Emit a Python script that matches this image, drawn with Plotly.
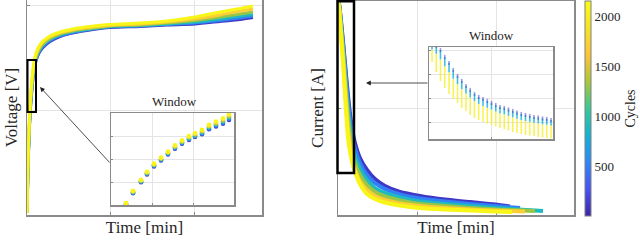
import plotly.graph_objects as go

# ---------------- data (axis units are arbitrary grid units) -------------
cycles = [100, 500, 900, 1300, 1700, 2100]

# Voltage vs time (left panel)
time_v = [0, 0.006, 0.012, 0.024, 0.036, 0.060, 0.083, 0.107, 0.143, 0.190, 0.274, 0.393,
          0.571, 0.750, 0.988, 1.345, 1.667, 2.0, 2.298, 2.536, 2.690]
v_c100 = [0.019, 0.220, 0.450, 0.737, 0.957, 1.215, 1.378, 1.474, 1.550, 1.603, 1.660, 1.708,
          1.746, 1.770, 1.794, 1.804, 1.818, 1.828, 1.852, 1.871, 1.890]
v_c500 = [0.019, 0.230, 0.459, 0.746, 0.967, 1.225, 1.388, 1.483, 1.560, 1.612, 1.670, 1.713,
          1.751, 1.775, 1.799, 1.809, 1.823, 1.837, 1.861, 1.885, 1.904]
v_c900 = [0.019, 0.239, 0.469, 0.766, 0.986, 1.244, 1.407, 1.498, 1.569, 1.627, 1.679, 1.723,
          1.761, 1.780, 1.804, 1.813, 1.828, 1.847, 1.876, 1.904, 1.919]
v_c1300 = [0.019, 0.249, 0.488, 0.785, 1.005, 1.263, 1.426, 1.512, 1.584, 1.636, 1.689, 1.732,
           1.766, 1.785, 1.809, 1.818, 1.837, 1.861, 1.895, 1.924, 1.943]
v_c1700 = [0.019, 0.268, 0.507, 0.804, 1.024, 1.282, 1.445, 1.531, 1.598, 1.651, 1.703, 1.742,
           1.775, 1.794, 1.813, 1.828, 1.847, 1.876, 1.914, 1.952, 1.971]
v_c2100 = [0.019, 0.287, 0.526, 0.833, 1.053, 1.311, 1.464, 1.550, 1.617, 1.665, 1.713, 1.751,
           1.785, 1.804, 1.823, 1.837, 1.857, 1.895, 1.943, 1.976, 2.000]

# Voltage window (inset)
vin_t = [0.366, 0.537, 0.732, 0.878, 1.049, 1.220, 1.390, 1.561, 1.732, 1.902, 2.049, 2.220,
         2.390, 2.561, 2.732, 2.878]
vin_c100 = [0.003, 0.515, 0.993, 1.331, 1.679, 1.930, 2.191, 2.442, 2.659, 2.823, 2.953, 3.074,
            3.291, 3.412, 3.532, 3.696]
vin_c500 = [0.019, 0.535, 1.013, 1.355, 1.703, 1.958, 2.219, 2.474, 2.691, 2.859, 2.989, 3.114,
            3.331, 3.456, 3.580, 3.748]
vin_c900 = [0.035, 0.555, 1.033, 1.379, 1.727, 1.986, 2.247, 2.506, 2.723, 2.895, 3.025, 3.154,
            3.371, 3.500, 3.628, 3.800]
vin_c1300 = [0.051, 0.575, 1.053, 1.403, 1.751, 2.014, 2.275, 2.538, 2.755, 2.931, 3.061, 3.194,
             3.411, 3.544, 3.676, 3.852]
vin_c1700 = [0.067, 0.595, 1.073, 1.427, 1.775, 2.042, 2.303, 2.570, 2.787, 2.967, 3.097, 3.234,
             3.451, 3.588, 3.724, 3.904]
vin_c2100 = [0.083, 0.615, 1.093, 1.451, 1.799, 2.070, 2.331, 2.602, 2.819, 3.003, 3.133, 3.274,
             3.491, 3.632, 3.772, 3.956]

# Current vs time (right panel)
time_i = [0, 0.013, 0.038, 0.063, 0.089, 0.127, 0.165, 0.215, 0.278, 0.367, 0.468, 0.595,
          0.785, 1.038, 1.354, 1.671, 1.987]
end_t = [2.177, 2.304, 2.595, 2.494, 2.367, 2.203]
end_i = [0.079, 0.065, 0.037, 0.037, 0.033, 0.028]
i_c100 = [1.991, 1.972, 1.813, 1.626, 1.411, 1.112, 0.869, 0.673, 0.533, 0.421, 0.336, 0.271,
          0.215, 0.178, 0.145, 0.121, 0.098]
i_c500 = [1.991, 1.972, 1.794, 1.598, 1.374, 1.056, 0.813, 0.617, 0.486, 0.374, 0.299, 0.243,
          0.192, 0.154, 0.126, 0.103, 0.084]
i_c900 = [1.991, 1.963, 1.766, 1.561, 1.318, 0.981, 0.738, 0.551, 0.430, 0.327, 0.252, 0.206,
          0.164, 0.126, 0.103, 0.084, 0.065]
i_c1300 = [1.991, 1.953, 1.738, 1.523, 1.262, 0.907, 0.664, 0.486, 0.374, 0.280, 0.215, 0.173,
           0.136, 0.103, 0.084, 0.065, 0.051]
i_c1700 = [1.991, 1.944, 1.710, 1.477, 1.196, 0.813, 0.589, 0.421, 0.318, 0.234, 0.178, 0.140,
           0.107, 0.084, 0.065, 0.051, 0.042]
i_c2100 = [1.991, 1.935, 1.682, 1.430, 1.121, 0.720, 0.542, 0.402, 0.290, 0.196, 0.150, 0.117,
           0.089, 0.065, 0.051, 0.042, 0.033]

# Current window (inset)
cin_t = [0.048, 0.117, 0.185, 0.254, 0.323, 0.391, 0.460, 0.528, 0.597, 0.665, 0.734, 0.802,
         0.871, 0.940, 1.008, 1.077, 1.145, 1.214, 1.282, 1.351, 1.419, 1.488, 1.556, 1.625,
         1.694, 1.762, 1.831, 1.899, 1.968]
cin_c100 = [4.250, 4.167, 4.000, 3.708, 3.458, 3.167, 2.917, 2.708, 2.500, 2.333, 2.167, 2.042,
            1.958, 1.875, 1.792, 1.708, 1.625, 1.583, 1.521, 1.458, 1.396, 1.333, 1.292, 1.250,
            1.208, 1.188, 1.146, 1.125, 1.083]
cin_c800 = [4.025, 3.842, 3.613, 3.321, 3.071, 2.804, 2.579, 2.371, 2.188, 2.021, 1.867, 1.754,
            1.671, 1.594, 1.517, 1.440, 1.363, 1.321, 1.258, 1.196, 1.140, 1.083, 1.042, 1.006,
            0.971, 0.944, 0.908, 0.888, 0.852]
cin_c2100 = [3.500, 3.083, 2.708, 2.417, 2.167, 1.958, 1.792, 1.583, 1.458, 1.292, 1.167, 1.083,
             1.000, 0.938, 0.875, 0.813, 0.750, 0.708, 0.646, 0.583, 0.542, 0.500, 0.458, 0.438,
             0.417, 0.375, 0.354, 0.333, 0.313]

cbar_ticks = [500, 1000, 1500, 2000]
CMAX = 2150

# ---------------- colours (parula) -------------
PARULA = [(0.0, (0.2422, 0.1504, 0.6603)), (0.125, (0.2810, 0.3228, 0.9579)),
          (0.25, (0.1786, 0.5289, 0.9682)), (0.375, (0.0689, 0.6948, 0.8394)),
          (0.5, (0.2161, 0.7843, 0.5923)), (0.625, (0.6720, 0.7793, 0.2227)),
          (0.75, (0.9970, 0.7659, 0.2199)), (0.875, (0.9610, 0.8890, 0.1537)),
          (1.0, (0.9769, 0.9839, 0.0805))]


def parula(t, alpha=1.0):
    t = min(max(t, 0.0), 1.0)
    for (t0, c0), (t1, c1) in zip(PARULA[:-1], PARULA[1:]):
        if t <= t1:
            f = (t - t0) / (t1 - t0)
            c = [a + f * (b - a) for a, b in zip(c0, c1)]
            break
    r, g, b = [int(round(255 * v)) for v in c]
    return f"rgba({r},{g},{b},{alpha})"


colorscale = [[t, parula(t)] for t, _ in PARULA]

FONT = "Liberation Serif"
TXT = "#262626"
W, H = 640, 240

fig = go.Figure()

# voltage main
for cyc, vv in zip(cycles, [v_c100, v_c500, v_c900, v_c1300, v_c1700, v_c2100]):
    fig.add_trace(go.Scatter(x=time_v, y=vv, mode="lines", xaxis="x", yaxis="y",
                             line=dict(color=parula(cyc / CMAX), width=3, shape="spline", smoothing=0.6),
                             showlegend=False, hoverinfo="skip"))

# current main
for cyc, ii, et, ei in zip(cycles, [i_c100, i_c500, i_c900, i_c1300, i_c1700, i_c2100], end_t, end_i):
    fig.add_trace(go.Scatter(x=time_i + [et], y=ii + [ei], mode="lines", xaxis="x2", yaxis="y2",
                             line=dict(color=parula(cyc / CMAX), width=4, shape="spline", smoothing=0.6),
                             showlegend=False, hoverinfo="skip"))

# voltage inset
for cyc, vv in zip(cycles, [vin_c100, vin_c500, vin_c900, vin_c1300, vin_c1700, vin_c2100]):
    fig.add_trace(go.Scatter(x=vin_t, y=vv, mode="markers", xaxis="x3", yaxis="y3",
                             marker=dict(color=parula(cyc / CMAX), size=4.5),
                             showlegend=False, hoverinfo="skip"))


def segments(x, y0, y1):
    xs, ys = [], []
    for a, b, c in zip(x, y0, y1):
        xs += [a, a, None]
        ys += [b, c, None]
    return xs, ys


sx, sy = segments(cin_t, cin_c800, cin_c2100)
fig.add_trace(go.Scatter(x=sx, y=sy, mode="lines", xaxis="x4", yaxis="y4",
                         line=dict(color=parula(2000 / CMAX, 0.75), width=1.6),
                         showlegend=False, hoverinfo="skip"))
sx, sy = segments(cin_t, cin_c100, cin_c800)
fig.add_trace(go.Scatter(x=sx, y=sy, mode="lines", xaxis="x4", yaxis="y4",
                         line=dict(color=parula(800 / CMAX, 0.8), width=1.6),
                         showlegend=False, hoverinfo="skip"))
fig.add_trace(go.Scatter(x=cin_t, y=cin_c100, mode="markers", xaxis="x4", yaxis="y4",
                         marker=dict(symbol="line-ns", size=3,
                                     line=dict(color=parula(100 / CMAX, 0.5), width=1.6)),
                         showlegend=False, hoverinfo="skip"))

# colorbar carrier
fig.add_trace(go.Scatter(x=[1], y=[1], xaxis="x2", yaxis="y2", mode="markers",
                         marker=dict(size=1, opacity=0, color=[1000], cmin=0, cmax=CMAX,
                                     colorscale=colorscale, showscale=True,
                                     colorbar=dict(x=585 / W, xanchor="left", y=(H - 108.5) / H,
                                                   yanchor="middle", len=215 / H, thickness=6,
                                                   xpad=0, ypad=0, outlinewidth=1,
                                                   outlinecolor="#808080", tickvals=cbar_ticks,
                                                   ticks="", ticklabelposition="outside",
                                                   tickfont=dict(family=FONT, size=13, color=TXT),
                                                   title=dict(text="Cycles", side="right",
                                                              font=dict(family=FONT, size=14, color=TXT)))),
                         showlegend=False, hoverinfo="skip"))

axis_style = dict(showticklabels=False, ticks="inside", ticklen=3, tickcolor="#8a8a8a",
                  showline=True, linecolor="#8a8a8a", linewidth=1.5, mirror=True,
                  showgrid=True, gridcolor="#e4e4e4", gridwidth=1, zeroline=False)
title_font = dict(family=FONT, size=17, color=TXT)

fig.update_layout(
    width=W, height=H, margin=dict(l=0, r=0, t=0, b=0, autoexpand=False),
    paper_bgcolor="white", plot_bgcolor="white", showlegend=False,
    xaxis=dict(axis_style, domain=[27 / W, 262 / W], range=[0, 2.798], dtick=1, layer="below traces",
               title=dict(text="Time [min]", font=title_font, standoff=5), anchor="y"),
    yaxis=dict(axis_style, domain=[25 / H, 1], range=[0, 2.057], dtick=1, layer="below traces",
               title=dict(text="Voltage [V]", font=title_font, standoff=3), anchor="x"),
    xaxis2=dict(axis_style, domain=[338 / W, 574 / W], range=[0, 2.987], dtick=1, layer="below traces",
                title=dict(text="Time [min]", font=title_font, standoff=5), anchor="y2"),
    yaxis2=dict(axis_style, domain=[25 / H, 239 / H], range=[0, 2.0], dtick=1, layer="below traces",
                title=dict(text="Current [A]", font=title_font, standoff=8), anchor="x2"),
    xaxis3=dict(axis_style, domain=[111 / W, 234 / W], range=[0, 3], dtick=1, anchor="y3", ticklen=2),
    yaxis3=dict(axis_style, domain=[35 / H, 127 / H], range=[0, 4], dtick=1, anchor="x3", ticklen=2),
    xaxis4=dict(axis_style, domain=[429 / W, 553 / W], range=[0, 2], dtick=1, anchor="y4", ticklen=2),
    yaxis4=dict(axis_style, domain=[101 / H, 193 / H], range=[0.292, 4.125], dtick=1, anchor="x4", ticklen=2),
)

# window rectangles (paper coords)
fig.add_shape(type="rect", xref="paper", yref="paper", x0=27.5 / W, x1=36 / W,
              y0=1 - 112 / H, y1=1 - 60 / H, line=dict(color="black", width=2))
fig.add_shape(type="rect", xref="paper", yref="paper", x0=337.5 / W, x1=354 / W,
              y0=1 - 173 / H, y1=1 - 1.2 / H, line=dict(color="black", width=2.5))

# arrows
fig.add_annotation(xref="paper", yref="paper", x=40 / W, y=1 - 87 / H, ax=71, ay=77,
                   showarrow=True, arrowhead=2, arrowsize=1.2, arrowwidth=0.8, arrowcolor="#222",
                   text="")
fig.add_annotation(xref="paper", yref="paper", x=366 / W, y=1 - 83 / H, ax=63, ay=0,
                   showarrow=True, arrowhead=2, arrowsize=1.2, arrowwidth=0.8, arrowcolor="#222",
                   text="")

# inset titles
fig.add_annotation(xref="paper", yref="paper", x=174 / W, y=1 - 101 / H, text="Window",
                   xanchor="center", yanchor="middle",
                   showarrow=False, font=dict(family=FONT, size=13, color=TXT))
fig.add_annotation(xref="paper", yref="paper", x=491 / W, y=1 - 35 / H, text="Window",
                   xanchor="center", yanchor="middle",
                   showarrow=False, font=dict(family=FONT, size=13, color=TXT))

fig.write_html("out.html", config={"displayModeBar": False, "staticPlot": True},
               post_script="document.body.style.margin='0';document.body.style.overflow='hidden';")
